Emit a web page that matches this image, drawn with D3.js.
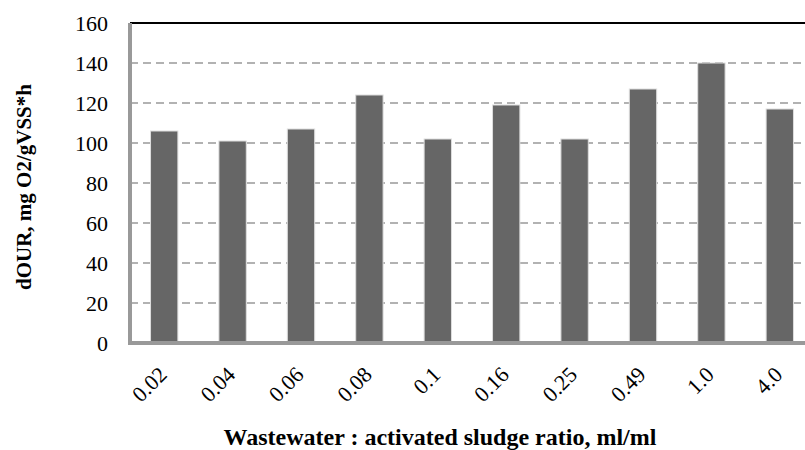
<!DOCTYPE html>
<html lang="en">
<head>
    <meta charset="UTF-8">
    <title>dOUR chart</title>
    <script src="https://d3js.org/d3.v7.min.js"></script>
    <style>
        body { margin: 0; background: #fff; }
        text { font-family: "Liberation Serif", "Times New Roman", serif; fill: #000; }
    </style>
</head>
<body>
    <div id="chart"></div>
    <script>
        // data
        const ratios = ["0.02", "0.04", "0.06", "0.08", "0.1", "0.16", "0.25", "0.49", "1.0", "4.0"];
        const dOUR = [106, 101, 107, 124, 102, 119, 102, 127, 140, 117];
        const yTicks = [0, 20, 40, 60, 80, 100, 120, 140, 160];

        const width = 805, height = 450;
        // plot area runs a bit past the right edge of the picture
        const margin = { top: 23, left: 130, bottom: 107 };
        const plotRight = 814;

        const svg = d3.select("#chart").append("svg")
            .attr("width", width)
            .attr("height", height);

        const x = d3.scaleBand()
            .domain(ratios)
            .range([margin.left, plotRight])
            .paddingInner(0.6)
            .paddingOuter(0.3);

        const y = d3.scaleLinear()
            .domain([0, 160])
            .range([height - margin.bottom, margin.top]);

        // dashed gridlines
        svg.append("g")
            .selectAll("line")
            .data(yTicks.filter(d => d > 0 && d < 160))
            .join("line")
            .attr("x1", margin.left)
            .attr("x2", plotRight)
            .attr("y1", d => y(d))
            .attr("y2", d => y(d))
            .attr("stroke", "#999")
            .attr("stroke-width", 1.5)
            .attr("stroke-dasharray", "8,5");

        // top border
        svg.append("line")
            .attr("x1", margin.left).attr("x2", plotRight)
            .attr("y1", y(160)).attr("y2", y(160))
            .attr("stroke", "#000").attr("stroke-width", 2);

        // bars
        svg.append("g")
            .selectAll("rect")
            .data(dOUR)
            .join("rect")
            .attr("x", (d, i) => x(ratios[i]))
            .attr("width", x.bandwidth())
            .attr("y", d => y(d))
            .attr("height", d => y(0) - y(d))
            .attr("fill", "#666")
            .attr("stroke", "#ddd")
            .attr("stroke-width", 1);

        // axes lines (thick gray)
        svg.append("line")
            .attr("x1", margin.left).attr("x2", margin.left)
            .attr("y1", y(160)).attr("y2", y(0) + 2)
            .attr("stroke", "#999").attr("stroke-width", 4);
        svg.append("line")
            .attr("x1", margin.left - 2).attr("x2", plotRight)
            .attr("y1", y(0)).attr("y2", y(0))
            .attr("stroke", "#999").attr("stroke-width", 4);

        // y tick labels
        const yAxis = d3.axisLeft(y).tickValues(yTicks).tickSize(0).tickPadding(22);
        svg.append("g")
            .attr("transform", `translate(${margin.left},0)`)
            .call(yAxis)
            .call(g => g.select(".domain").remove())
            .selectAll("text")
            .style("font-family", "'Liberation Serif', serif")
            .style("font-size", "22px");

        // x tick labels, rotated
        const xAxis = d3.axisBottom(x).tickSize(0);
        svg.append("g")
            .attr("transform", `translate(0,${y(0)})`)
            .call(xAxis)
            .call(g => g.select(".domain").remove())
            .selectAll("text")
            .style("font-family", "'Liberation Serif', serif")
            .style("font-size", "22px")
            .attr("text-anchor", "end")
            .attr("y", 0)
            .attr("dy", 0)
            .attr("transform", "translate(4,33) rotate(-45)");

        // axis titles
        svg.append("text")
            .attr("x", 440)
            .attr("y", 445)
            .attr("text-anchor", "middle")
            .style("font-size", "24px")
            .style("font-weight", "bold")
            .text("Wastewater : activated sludge ratio, ml/ml");

        svg.append("text")
            .attr("transform", `translate(31,187) rotate(-90)`)
            .attr("text-anchor", "middle")
            .style("font-size", "21px")
            .style("font-weight", "bold")
            .text("dOUR, mg O2/gVSS*h");
    </script>
</body>
</html>
